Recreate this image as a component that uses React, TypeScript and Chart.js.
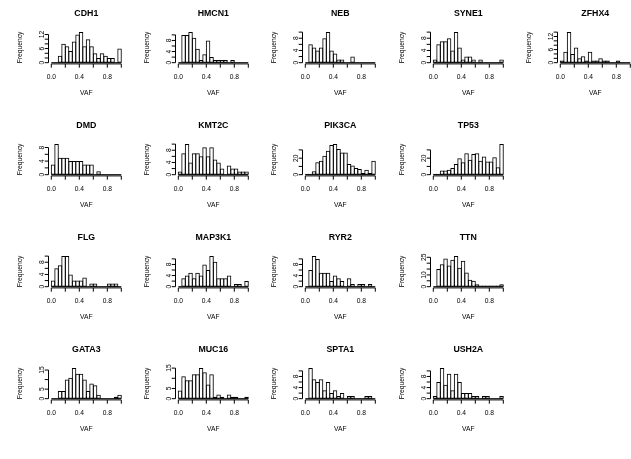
import React, { useEffect, useRef } from "react";
import { Chart, registerables } from "chart.js";

Chart.register(...registerables);

// VAF histograms: 20 bins of width 0.05 over [0, 1]
const BIN_WIDTH = 0.05;
const X_TICKS = [0, 0.2, 0.4, 0.6, 0.8, 1.0];
const X_TICK_LABELS = ["0.0", "", "0.4", "", "0.8", ""];

const GENES = [
  "CDH1", "HMCN1", "NEB", "SYNE1", "ZFHX4",
  "DMD", "KMT2C", "PIK3CA", "TP53",
  "FLG", "MAP3K1", "RYR2", "TTN",
  "GATA3", "MUC16", "SPTA1", "USH2A",
];

// mutation counts per VAF bin
const CDH1 = [0, 0, 3, 8, 7, 5, 9, 12, 13, 7, 10, 7, 4, 2, 4, 3, 2, 2, 0, 6];
const HMCN1 = [0, 10, 10, 11, 9, 5, 1, 3, 8, 2, 1, 1, 1, 1, 0, 1, 0, 0, 0, 0];
const NEB = [0, 6, 5, 4, 5, 8, 10, 4, 3, 1, 1, 0, 0, 2, 0, 0, 0, 0, 0, 0];
const SYNE1 = [1, 6, 7, 7, 8, 4, 10, 5, 1, 2, 2, 1, 0, 1, 0, 0, 0, 0, 0, 1];
const ZFHX4 = [1, 5, 14, 4, 7, 2, 3, 1, 5, 1, 1, 2, 1, 1, 0, 0, 1, 0, 0, 0];
const DMD = [3, 9, 5, 5, 5, 4, 4, 4, 4, 3, 3, 3, 0, 1, 0, 0, 0, 0, 0, 0];
const KMT2C = [1, 7, 10, 4, 7, 7, 6, 9, 6, 9, 5, 4, 2, 0, 3, 2, 2, 1, 1, 1];
const PIK3CA = [1, 1, 4, 15, 17, 23, 29, 36, 37, 31, 27, 27, 13, 11, 8, 7, 2, 6, 2, 17];
const TP53 = [1, 1, 5, 5, 6, 8, 13, 20, 15, 26, 18, 25, 26, 17, 22, 16, 16, 21, 9, 37];
const FLG = [2, 6, 7, 10, 10, 4, 2, 2, 2, 3, 0, 1, 1, 0, 0, 0, 1, 1, 1, 0];
const MAP3K1 = [0, 3, 4, 5, 3, 5, 4, 8, 6, 11, 9, 3, 3, 3, 4, 0, 1, 1, 0, 2];
const RYR2 = [0, 6, 11, 10, 5, 5, 5, 2, 4, 3, 2, 0, 3, 1, 0, 1, 1, 0, 1, 0];
const TTN = [0, 15, 19, 24, 18, 23, 26, 16, 22, 12, 6, 5, 2, 1, 1, 1, 1, 1, 1, 2];
const GATA3 = [0, 0, 4, 4, 10, 11, 16, 13, 13, 10, 4, 8, 7, 2, 0, 0, 0, 0, 1, 2];
const MUC16 = [4, 11, 9, 9, 12, 12, 15, 13, 7, 12, 1, 2, 1, 0, 2, 1, 1, 0, 0, 1];
const SPTA1 = [0, 11, 7, 6, 7, 3, 6, 2, 3, 1, 2, 0, 1, 1, 0, 0, 0, 1, 1, 0];
const USH2A = [1, 6, 11, 5, 9, 3, 9, 6, 2, 2, 2, 1, 1, 0, 1, 1, 0, 0, 0, 1];

const COUNTS = [
  CDH1, HMCN1, NEB, SYNE1, ZFHX4,
  DMD, KMT2C, PIK3CA, TP53,
  FLG, MAP3K1, RYR2, TTN,
  GATA3, MUC16, SPTA1, USH2A,
];

// frequency axis: tick step and the ticks that carry a label
const Y_STEPS = [2, 2, 2, 2, 2, 2, 2, 10, 10, 2, 2, 2, 5, 5, 5, 2, 2];
const Y_LABELLED = [
  [0, 6, 12], [0, 4, 8], [0, 4, 8], [0, 4, 8], [0, 6, 12],
  [0, 4, 8], [0, 4, 8], [0, 20], [0, 20],
  [0, 4, 8], [0, 4, 8], [0, 4, 8], [0, 10, 25],
  [0, 5, 15], [0, 5, 15], [0, 4, 8], [0, 4, 8],
];

const PANEL_ROW = [0, 0, 0, 0, 0, 1, 1, 1, 1, 2, 2, 2, 2, 3, 3, 3, 3];
const PANEL_COL = [0, 1, 2, 3, 4, 0, 1, 2, 3, 0, 1, 2, 3, 0, 1, 2, 3];

const PANEL_W = 127;
const PANEL_H = 112;
const COL_STEP = 127.2;
const ROW_STEP = 112;

const FONT = '"Liberation Sans", Arial, Helvetica, sans-serif';
const AXIS_FONT = `6.7px ${FONT}`;
const TITLE_FONT = `bold 8.8px ${FONT}`;

function HistPanel({ index }: { index: number }) {
  const ref = useRef<HTMLCanvasElement | null>(null);

  useEffect(() => {
    const canvas = ref.current;
    if (!canvas) return;
    const gene = GENES[index];
    const counts = COUNTS[index];
    const step = Y_STEPS[index];
    const labelled = Y_LABELLED[index];
    const top = Math.max(...counts);
    const yMin = -0.04 * top;
    const yMax = 1.04 * top;
    const yTicks: number[] = [];
    for (let v = 0; v <= yMax + 1e-9; v += step) yTicks.push(v);

    const axesPlugin = {
      id: "histAxes",
      afterDraw(chart: any) {
        const { ctx, chartArea } = chart;
        const xs = chart.scales.x;
        const ys = chart.scales.y;
        const tick = 3.8;
        ctx.save();
        ctx.strokeStyle = "#000";
        ctx.fillStyle = "#000";
        ctx.lineWidth = 1;

        // x axis: line from first to last tick, ticks pointing down
        const bottom = chartArea.bottom;
        ctx.beginPath();
        ctx.moveTo(xs.getPixelForValue(X_TICKS[0]), bottom);
        ctx.lineTo(xs.getPixelForValue(X_TICKS[X_TICKS.length - 1]), bottom);
        X_TICKS.forEach((v) => {
          const px = xs.getPixelForValue(v);
          ctx.moveTo(px, bottom);
          ctx.lineTo(px, bottom + tick);
        });
        ctx.stroke();

        ctx.font = AXIS_FONT;
        ctx.textAlign = "center";
        ctx.textBaseline = "middle";
        X_TICKS.forEach((v, i) => {
          if (X_TICK_LABELS[i]) ctx.fillText(X_TICK_LABELS[i], xs.getPixelForValue(v), bottom + 13.4);
        });
        ctx.fillText("VAF", xs.getPixelForValue(0.5), bottom + 29.6);

        // y axis
        const left = chartArea.left;
        ctx.beginPath();
        ctx.moveTo(left, ys.getPixelForValue(0));
        ctx.lineTo(left, ys.getPixelForValue(yTicks[yTicks.length - 1]));
        yTicks.forEach((v) => {
          const py = ys.getPixelForValue(v);
          ctx.moveTo(left, py);
          ctx.lineTo(left - tick, py);
        });
        ctx.stroke();

        labelled.forEach((v) => {
          ctx.save();
          ctx.translate(left - 6.5, ys.getPixelForValue(v));
          ctx.rotate(-Math.PI / 2);
          ctx.fillText(String(v), 0, 0);
          ctx.restore();
        });

        ctx.save();
        ctx.translate(left - 28, (chartArea.top + chartArea.bottom) / 2);
        ctx.rotate(-Math.PI / 2);
        ctx.fillText("Frequency", 0, 0);
        ctx.restore();

        // panel title
        ctx.font = TITLE_FONT;
        ctx.fillText(gene, xs.getPixelForValue(0.5), chartArea.top - 16.9);
        ctx.restore();
      },
    };

    const chart = new Chart(canvas, {
      type: "bar",
      data: {
        datasets: [
          {
            type: "bar",
            data: counts.map((c, i) => ({ x: (i + 0.5) * BIN_WIDTH, y: c })),
            backgroundColor: "rgba(255,255,255,0)",
            borderColor: "#000",
            borderWidth: 1,
            borderSkipped: false,
            categoryPercentage: 1,
            barPercentage: 4.5 / 3.5,
          } as any,
          {
            type: "line",
            data: [
              { x: 0, y: 0 },
              { x: 1, y: 0 },
            ],
            borderColor: "#000",
            borderWidth: 1,
            pointRadius: 0,
          } as any,
        ],
      },
      options: {
        animation: false,
        responsive: false,
        events: [],
        layout: { padding: { left: 48.5, right: 2.9, top: 30.9, bottom: 48.1 } },
        plugins: {
          legend: { display: false },
          tooltip: { enabled: false },
          title: { display: false },
        },
        scales: {
          x: {
            type: "linear",
            min: -0.04,
            max: 1.04,
            offset: false,
            display: false,
            afterBuildTicks: (s: any) => {
              s.ticks = X_TICKS.map((value) => ({ value }));
            },
          },
          y: {
            type: "linear",
            min: yMin,
            max: yMax,
            display: false,
          },
        },
      } as any,
      plugins: [axesPlugin],
    });
    return () => chart.destroy();
  }, [index]);

  const left = Math.round(COL_STEP * PANEL_COL[index]);
  const top = ROW_STEP * PANEL_ROW[index];
  return (
    <canvas
      ref={ref}
      width={PANEL_W}
      height={PANEL_H}
      style={{ position: "absolute", left, top, width: PANEL_W, height: PANEL_H, display: "block" }}
    />
  );
}

export default function App() {
  return (
    <div
      style={{
        position: "fixed",
        left: 0,
        top: 0,
        width: 631,
        height: 459,
        overflow: "hidden",
        background: "#fff",
      }}
    >
      {GENES.map((g, i) => (
        <HistPanel key={g} index={i} />
      ))}
    </div>
  );
}
